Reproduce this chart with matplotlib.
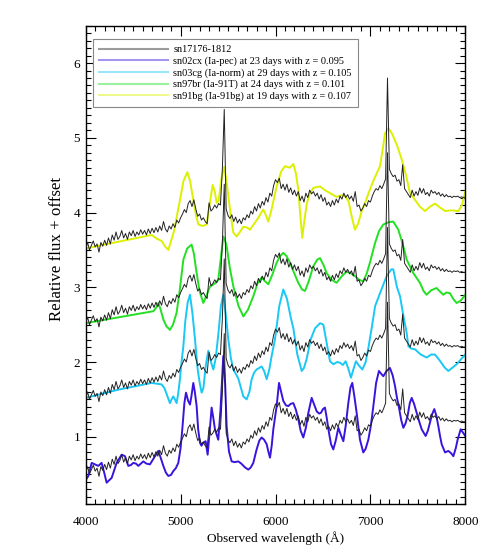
import numpy as np
import matplotlib
matplotlib.use("Agg")
import matplotlib.pyplot as plt
from matplotlib.lines import Line2D
from matplotlib.ticker import MultipleLocator

plt.rcParams['font.family'] = ['Liberation Serif', 'DejaVu Serif']

# observed spectrum sn17176-1812, sampled every 20 A from 4000 to 8000
obs_wave = np.arange(4000, 8001, 20)
obs_flux = [
    0.52, 0.60, 0.50, 0.56, 0.62, 0.54, 0.58, 0.47, 0.60, 0.55,  # 4000
    0.63, 0.56, 0.66, 0.58, 0.70, 0.63, 0.74, 0.64, 0.68, 0.76,  # 4200
    0.66, 0.72, 0.64, 0.74, 0.69, 0.76, 0.68, 0.74, 0.70, 0.77,  # 4400
    0.71, 0.76, 0.70, 0.78, 0.72, 0.79, 0.73, 0.80, 0.74, 0.82,  # 4600
    0.76, 0.88, 0.78, 0.74, 0.82, 0.78, 0.85, 0.80, 0.90, 0.86,  # 4800
    0.93, 0.98, 1.04, 1.00, 1.12, 1.16, 1.08, 1.17, 1.05, 0.95,  # 5000
    0.98, 0.90, 0.93, 0.88, 0.85, 1.13, 1.02, 1.05, 1.10, 1.06,  # 5200
    1.12, 1.10, 1.58, 2.38, 1.05, 0.96, 0.92, 0.97, 0.88, 0.94,  # 5400
    0.86, 0.91, 0.85, 0.93, 0.90, 0.97, 0.93, 1.02, 0.98, 1.08,  # 5600
    1.02, 1.12, 1.06, 1.15, 1.10, 1.20, 1.14, 1.26, 1.22, 1.36,  # 5800
    1.44, 1.40, 1.46, 1.32, 1.38, 1.30, 1.38, 1.27, 1.33, 1.24,  # 6000
    1.30, 1.22, 1.28, 1.16, 1.22, 1.14, 1.26, 1.20, 1.30, 1.25,  # 6200
    1.28, 1.22, 1.26, 1.18, 1.24, 1.15, 1.20, 1.10, 1.14, 1.08,  # 6400
    1.16, 1.10, 1.18, 1.13, 1.22, 1.18, 1.26, 1.20, 1.24, 1.18,  # 6600
    1.22, 1.15, 1.28, 1.08, 1.10, 1.02, 1.06, 1.12, 1.08, 1.16,  # 6800
    1.14, 1.22, 1.28, 1.32, 1.30, 1.36, 1.32, 1.38, 1.45, 2.80,  # 7000
    1.58, 1.52, 1.48, 1.50, 1.42, 1.44, 1.36, 1.64, 1.32, 1.28,  # 7200
    1.24, 1.20, 1.30, 1.22, 1.28, 1.23, 1.33, 1.26, 1.32, 1.24,  # 7400
    1.27, 1.22, 1.30, 1.26, 1.28, 1.24, 1.27, 1.22, 1.25, 1.21,  # 7600
    1.24, 1.21, 1.22, 1.20, 1.22, 1.21, 1.22, 1.20, 1.21, 1.20,  # 7800
    1.20,
]

# templates (without offset)
sn02cx_wave = [4000, 4028, 4063, 4098, 4133, 4168, 4195, 4221, 4274, 4300, 4326, 4379, 4414, 4449,
               4475, 4502, 4530, 4555, 4607, 4640, 4677, 4730, 4765, 4790, 4818, 4845, 4871, 4900,
               4923, 4950, 4976, 5000, 5018, 5040, 5057, 5080, 5099, 5115, 5134, 5150, 5169, 5185,
               5204, 5220, 5239, 5264, 5285, 5305, 5327, 5345, 5362, 5397, 5420, 5450, 5470, 5485,
               5510, 5538, 5570, 5608, 5640, 5678, 5714, 5740, 5766, 5801, 5830, 5854, 5880, 5907,
               5925, 5942, 5960, 5977, 6012, 6037, 6060, 6082, 6110, 6135, 6160, 6188, 6215, 6241,
               6265, 6293, 6320, 6346, 6381, 6410, 6434, 6460, 6479, 6500, 6521, 6540, 6564, 6585,
               6609, 6635, 6662, 6690, 6715, 6740, 6767, 6790, 6809, 6830, 6855, 6890, 6925, 6950,
               6978, 7005, 7031, 7060, 7090, 7115, 7136, 7170, 7206, 7235, 7259, 7280, 7301, 7325,
               7347, 7370, 7392, 7415, 7435, 7460, 7487, 7515, 7540, 7582, 7605, 7628, 7650, 7673,
               7695, 7716, 7735, 7751, 7786, 7821, 7850, 7874, 7898, 7919, 7951, 7979, 8000]
sn02cx_flux = [0.42, 0.475, 0.65, 0.63, 0.61, 0.65, 0.52, 0.385, 0.45, 0.55, 0.65, 0.76, 0.74, 0.61,
               0.62, 0.65, 0.64, 0.61, 0.67, 0.64, 0.63, 0.74, 0.81, 0.72, 0.61, 0.52, 0.475, 0.49,
               0.54, 0.58, 0.65, 0.85, 1.10, 1.45, 1.59, 1.48, 1.43, 1.55, 1.72, 1.60, 1.41, 1.10,
               0.92, 0.88, 0.92, 0.94, 0.76, 1.05, 1.39, 1.25, 1.10, 0.96, 1.35, 2.08, 1.70, 1.14,
               0.80, 0.67, 0.66, 0.67, 0.64, 0.59, 0.56, 0.59, 0.65, 0.83, 0.95, 0.99, 0.96, 0.90,
               0.80, 0.72, 0.88, 1.10, 1.41, 1.72, 1.60, 1.48, 1.42, 1.41, 1.44, 1.45, 1.36, 1.23,
               1.08, 0.99, 1.12, 1.32, 1.52, 1.42, 1.34, 1.31, 1.32, 1.37, 1.39, 1.25, 1.05, 0.90,
               0.83, 0.95, 1.12, 1.02, 0.94, 1.15, 1.45, 1.66, 1.72, 1.55, 1.32, 0.96, 0.79, 0.84,
               0.96, 1.15, 1.41, 1.72, 1.88, 1.84, 1.81, 1.88, 1.92, 1.82, 1.68, 1.52, 1.39, 1.22,
               1.12, 1.18, 1.28, 1.45, 1.52, 1.44, 1.32, 1.20, 1.10, 1.01, 1.08, 1.19, 1.30, 1.37,
               1.28, 1.14, 1.00, 0.90, 0.79, 0.81, 0.78, 0.74, 0.84, 0.96, 1.10, 1.05, 1.01]

sn03cg_wave = [4000, 4344, 4695, 4800, 4830, 4853, 4888, 4905, 4923, 4940, 4958, 4975, 4993, 5010,
               5029, 5050, 5075, 5099, 5125, 5152, 5180, 5204, 5222, 5240, 5265, 5292, 5320, 5345,
               5370, 5400, 5425, 5450, 5475, 5503, 5530, 5556, 5608, 5661, 5696, 5725, 5749, 5775,
               5801, 5854, 5880, 5907, 5935, 5959, 5994, 6040, 6082, 6120, 6160, 6188, 6230, 6276,
               6300, 6330, 6370, 6416, 6470, 6504, 6540, 6574, 6610, 6650, 6680, 6710, 6739, 6765,
               6795, 6820, 6848, 6880, 6915, 6950, 6980, 7013, 7050, 7101, 7171, 7220, 7241, 7280,
               7312, 7350, 7382, 7400, 7430, 7470, 7530, 7593, 7640, 7680, 7730, 7780, 7821, 7860,
               7909, 7950, 8000]
sn03cg_flux = [0.52, 0.63, 0.72, 0.70, 0.65, 0.57, 0.45, 0.50, 0.54, 0.50, 0.45, 0.58, 0.77, 1.00,
               1.21, 1.55, 1.80, 1.90, 1.65, 1.30, 0.90, 0.70, 0.59, 0.65, 0.95, 1.15, 1.00, 0.90,
               1.05, 1.40, 1.75, 1.90, 1.65, 1.30, 1.05, 0.90, 0.78, 0.54, 0.50, 0.60, 0.77, 0.86,
               0.90, 0.94, 0.88, 0.77, 0.90, 1.08, 1.30, 1.75, 1.97, 1.85, 1.60, 1.45, 1.10, 0.88,
               0.92, 1.05, 1.30, 1.45, 1.52, 1.50, 1.25, 1.01, 0.97, 1.00, 0.99, 0.96, 1.01, 0.92,
               0.79, 0.90, 1.01, 0.95, 0.90, 1.00, 1.20, 1.45, 1.75, 1.92, 2.15, 2.24, 2.24, 2.00,
               1.88, 1.60, 1.39, 1.21, 1.18, 1.17, 1.10, 1.06, 1.10, 1.10, 1.02, 0.93, 0.88, 0.92,
               0.97, 1.03, 1.10]

sn97br_wave = [4000, 4713, 4740, 4765, 4790, 4818, 4850, 4888, 4920, 4958, 4990, 5029, 5070, 5116,
               5140, 5169, 5200, 5239, 5270, 5310, 5360, 5397, 5425, 5450, 5470, 5485, 5520, 5556,
               5610, 5661, 5710, 5766, 5810, 5854, 5890, 5924, 5970, 6012, 6050, 6082, 6115, 6152,
               6200, 6240, 6280, 6311, 6350, 6398, 6440, 6469, 6505, 6539, 6590, 6644, 6700, 6750,
               6790, 6837, 6880, 6925, 6960, 6995, 7048, 7090, 7136, 7190, 7241, 7294, 7340, 7382,
               7452, 7522, 7560, 7592, 7640, 7698, 7735, 7768, 7800, 7838, 7875, 7909, 7950, 8000]
sn97br_flux = [0.52, 0.68, 0.72, 0.79, 0.70, 0.57, 0.48, 0.43, 0.50, 0.66, 0.95, 1.37, 1.52, 1.57,
               1.45, 1.19, 0.95, 0.79, 0.88, 1.01, 1.05, 1.10, 1.40, 1.68, 1.62, 1.55, 1.25, 1.01,
               0.75, 0.61, 0.70, 0.88, 1.05, 1.13, 1.08, 1.04, 1.18, 1.33, 1.42, 1.46, 1.42, 1.33,
               1.18, 1.06, 0.97, 0.95, 1.08, 1.28, 1.37, 1.39, 1.30, 1.19, 1.10, 1.06, 1.15, 1.21,
               1.19, 1.15, 1.10, 1.08, 1.18, 1.33, 1.59, 1.75, 1.84, 1.87, 1.88, 1.77, 1.58, 1.37,
               1.19, 1.06, 0.95, 0.90, 0.96, 0.99, 0.94, 0.90, 0.93, 0.92, 0.84, 0.79, 0.82, 0.90]

sn91bg_wave = [4000, 4695, 4750, 4800, 4840, 4871, 4930, 4994, 5030, 5071, 5100, 5134, 5160, 5187,
               5230, 5274, 5305, 5338, 5360, 5380, 5400, 5430, 5457, 5480, 5503, 5530, 5556, 5591,
               5625, 5661, 5700, 5731, 5775, 5819, 5850, 5872, 5900, 5924, 5960, 6012, 6060, 6100,
               6152, 6188, 6215, 6240, 6262, 6282, 6300, 6328, 6360, 6398, 6469, 6520, 6574, 6644,
               6690, 6732, 6770, 6802, 6837, 6870, 6908, 6950, 6995, 7040, 7075, 7101, 7130, 7154,
               7189, 7230, 7280, 7330, 7375, 7417, 7470, 7520, 7576, 7630, 7681, 7730, 7787, 7850,
               7927, 7965, 8000]
sn91bg_flux = [0.52, 0.70, 0.65, 0.62, 0.54, 0.50, 0.75, 1.17, 1.42, 1.54, 1.42, 1.17, 0.98, 0.84,
               0.82, 0.84, 1.10, 1.37, 1.28, 1.13, 1.15, 1.45, 1.61, 1.45, 1.22, 0.95, 0.73, 0.68,
               0.74, 0.81, 0.80, 0.77, 0.85, 0.93, 1.00, 1.04, 0.96, 0.88, 1.05, 1.35, 1.55, 1.62,
               1.60, 1.65, 1.52, 1.31, 0.95, 0.66, 0.85, 1.11, 1.25, 1.33, 1.35, 1.30, 1.26, 1.21,
               1.23, 1.22, 1.15, 0.95, 0.77, 0.85, 1.02, 1.15, 1.31, 1.45, 1.55, 1.62, 1.85, 2.06,
               2.13, 2.05, 1.90, 1.71, 1.50, 1.26, 1.17, 1.08, 1.02, 1.08, 1.12, 1.07, 1.02, 1.03,
               1.02, 1.10, 1.28]

labels = ['sn17176-1812',
          'sn02cx (Ia-pec) at 23 days with z = 0.095',
          'sn03cg (Ia-norm) at 29 days with z = 0.105',
          'sn97br (Ia-91T) at 24 days with z = 0.101',
          'sn91bg (Ia-91bg) at 19 days with z = 0.107']
offsets = [0, 1, 2, 3]
colors = ['#3a14dc', '#19c8f5', '#22e022', '#dcf000']
obs_color = '#222222'

templates = [(sn02cx_wave, sn02cx_flux), (sn03cg_wave, sn03cg_flux),
             (sn97br_wave, sn97br_flux), (sn91bg_wave, sn91bg_flux)]

fig = plt.figure(figsize=(4.91, 5.59), dpi=100)
ax = fig.add_axes([0.1745, 0.0984, 0.7732, 0.8556])

obs_flux = np.array(obs_flux)
for (w, f), off, c in zip(templates, offsets, colors):
    ax.plot(w, np.array(f) + off, color=c, lw=1.4, zorder=2)
    ax.plot(obs_wave, obs_flux + off, color=obs_color, lw=0.7, zorder=3)

ax.set_xlim(4000, 8000)
ax.set_ylim(0.1, 6.5)
ax.xaxis.set_major_locator(MultipleLocator(1000))
ax.xaxis.set_minor_locator(MultipleLocator(100))
ax.yaxis.set_major_locator(MultipleLocator(1))
ax.yaxis.set_minor_locator(MultipleLocator(0.1))
ax.tick_params(which='both', direction='in', top=True, right=True, labelsize=9.5, width=0.8)
ax.tick_params(which='major', length=7.5)
ax.tick_params(axis='x', which='major', pad=9)
ax.tick_params(axis='y', which='major', pad=4)
ax.tick_params(which='minor', length=3.7)
for s in ax.spines.values():
    s.set_linewidth(1.0)

ax.set_xlabel('Observed wavelength (Å)', fontsize=9.5, labelpad=2)
ax.set_ylabel('Relative flux + offset', fontsize=12.2)
ax.yaxis.set_label_coords(-0.054, 0.533)

# legend handles drawn lighter, like in the original
handles = [Line2D([], [], color=obs_color, lw=1.5, alpha=0.45)]
handles += [Line2D([], [], color=c, lw=1.5, alpha=0.45) for c in colors]
leg = ax.legend(handles, labels, loc='upper left', bbox_to_anchor=(0.02, 0.972),
                borderaxespad=0, fontsize=7.4, handlelength=6.7, labelspacing=0.2,
                fancybox=False, framealpha=1, edgecolor='#888888', borderpad=0.6,
                handletextpad=0.5)
leg.get_frame().set_linewidth(0.8)

fig.savefig('out.png', dpi=100)
